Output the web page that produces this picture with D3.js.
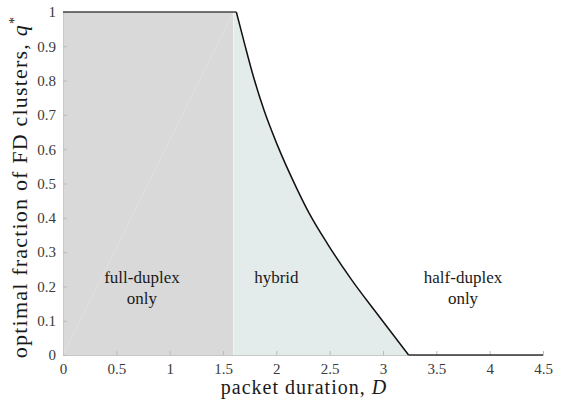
<!DOCTYPE html>
<html>
<head>
<meta charset="utf-8">
<script src="https://cdn.jsdelivr.net/npm/d3@7"></script>
<style>
  body { margin: 0; background: #fff; }
  text { font-family: "Liberation Serif", "DejaVu Serif", serif; }
</style>
</head>
<body>
<div id="vis"></div>
<script>
// curve
let durations = [0, 1.625, 1.70, 1.785, 1.884, 2.003, 2.191, 2.31, 2.484, 2.706, 2.95, 3.24, 4.5]
let fractions = [1, 1, 0.91, 0.812, 0.714, 0.617, 0.486, 0.412, 0.322, 0.219, 0.118, 0, 0]

let fdLimit = 1.6
let xTicks = [0, 0.5, 1, 1.5, 2, 2.5, 3, 3.5, 4, 4.5]
let yTicks = [0, 0.1, 0.2, 0.3, 0.4, 0.5, 0.6, 0.7, 0.8, 0.9, 1]

let regionLabels = [
    {lines: ['full-duplex', 'only'], d: 0.74},
    {lines: ['hybrid'], d: 2.0},
    {lines: ['half-duplex', 'only'], d: 3.75}
]

let svg = d3.select('#vis')
    .append('svg')
    .attr('width', 565)
    .attr('height', 407)

let x = d3.scaleLinear().domain([0, 4.5]).range([63, 543])
let y = d3.scaleLinear().domain([0, 1]).range([355, 12])

let pts = durations.map((d, i) => [d, fractions[i]])
let curvePts = pts.filter(p => p[0] >= 1.625 && p[0] <= 3.24)

// full-duplex region
svg.append('rect')
    .attr('x', x(0))
    .attr('y', y(1))
    .attr('width', x(fdLimit) - x(0))
    .attr('height', y(0) - y(1))
    .attr('fill', '#d9d9d9')

// faint diagonal artifact
svg.append('line')
    .attr('x1', x(0)).attr('y1', y(0))
    .attr('x2', x(fdLimit)).attr('y2', y(1))
    .attr('stroke', '#e2e2e2')
    .attr('stroke-width', 0.8)

// hybrid region
let smooth = d3.line().x(p => x(p[0])).y(p => y(p[1])).curve(d3.curveMonotoneX)
svg.append('path')
    .attr('d', smooth(curvePts) + `L${x(fdLimit)},${y(0)}L${x(fdLimit)},${y(1)}Z`)
    .attr('fill', '#e4ebeb')

svg.append('line')
    .attr('x1', x(fdLimit)).attr('y1', y(0))
    .attr('x2', x(fdLimit)).attr('y2', y(1))
    .attr('stroke', '#f6f6f6')
    .attr('stroke-width', 1)

// axes
let xAxis = d3.axisBottom(x).tickValues(xTicks).tickSize(-4).tickPadding(8).tickFormat(d3.format('~g'))
let yAxis = d3.axisLeft(y).tickValues(yTicks).tickSize(-4).tickPadding(7).tickFormat(d3.format('~g'))

let gx = svg.append('g').attr('transform', `translate(0,${y(0)})`).call(xAxis)
let gy = svg.append('g').attr('transform', `translate(${x(0)},0)`).call(yAxis)

for (let g of [gx, gy]) {
    g.select('.domain').attr('stroke', '#c8c8c8').attr('stroke-width', 1)
    g.selectAll('.tick line').attr('stroke', '#bbbbbb')
    g.selectAll('.tick text')
        .attr('fill', '#3a3a3a')
        .style('font-size', '15px')
        .style('font-family', '"Liberation Serif", serif')
}

// data line: flat parts plus the smooth drop
let straight = d3.line().x(p => x(p[0])).y(p => y(p[1]))
svg.append('path')
    .attr('d', straight(pts.slice(0, 2)))
    .attr('fill', 'none')
    .attr('stroke', '#444')
    .attr('stroke-width', 1.5)
svg.append('path')
    .attr('d', smooth(curvePts))
    .attr('fill', 'none')
    .attr('stroke', '#111')
    .attr('stroke-width', 1.5)
svg.append('path')
    .attr('d', straight(pts.slice(-2)))
    .attr('fill', 'none')
    .attr('stroke', '#333')
    .attr('stroke-width', 1.5)

// region labels
regionLabels.forEach(r => {
    let t = svg.append('text')
        .attr('text-anchor', 'middle')
        .attr('fill', '#1a1a1a')
        .style('font-size', '17px')
    r.lines.forEach((s, i) => {
        t.append('tspan')
            .attr('x', x(r.d))
            .attr('y', 283 + i * 21)
            .text(s)
    })
})

// axis labels
let xl = svg.append('text')
    .attr('x', 304).attr('y', 394)
    .attr('text-anchor', 'middle')
    .attr('fill', '#1a1a1a')
    .style('font-size', '20px')
    .style('letter-spacing', '1px')
xl.append('tspan').text('packet duration, ')
xl.append('tspan').style('font-style', 'italic').text('D')

let yl = svg.append('text')
    .attr('transform', 'translate(27,187) rotate(-90)')
    .attr('text-anchor', 'middle')
    .attr('fill', '#1a1a1a')
    .style('font-size', '22px')
    .style('letter-spacing', '1.2px')
yl.append('tspan').text('optimal fraction of FD clusters, ')
yl.append('tspan').style('font-style', 'italic').text('q')
yl.append('tspan').attr('dy', -8).style('font-size', '14px').text('*')
</script>
</body>
</html>
